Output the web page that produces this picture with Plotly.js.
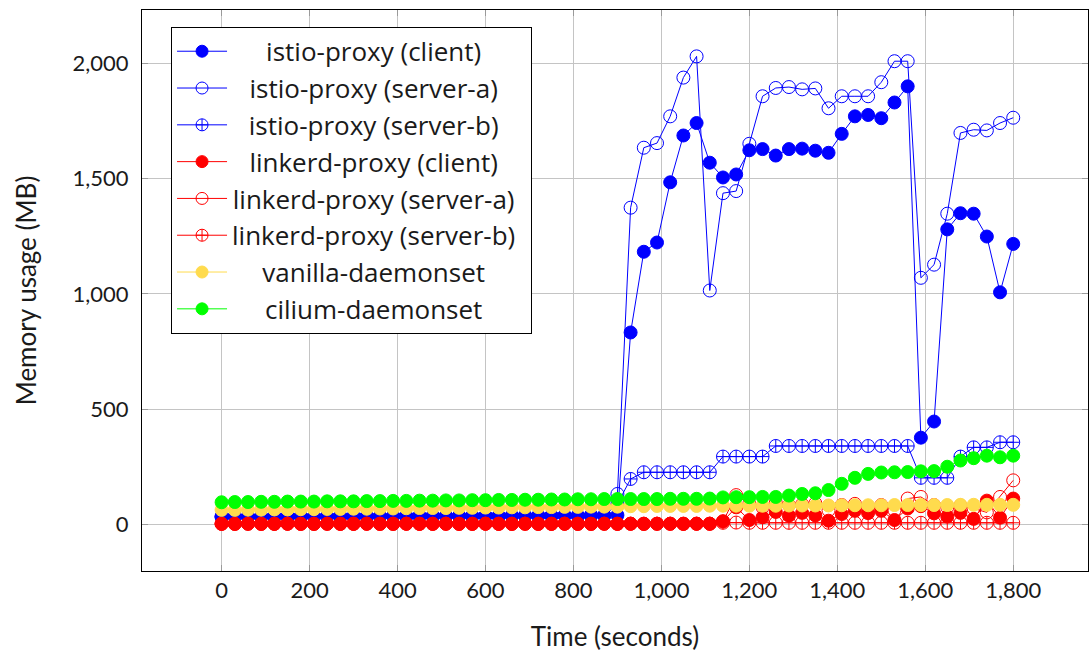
<!DOCTYPE html>
<html>
<head>
<meta charset="utf-8">
<script src="https://cdn.plot.ly/plotly-3.0.1.min.js"></script>
<style>html,body{margin:0;padding:0;background:#fff;}#chart{width:1089px;height:655px;}</style>
</head>
<body>
<div id="chart"></div>
<script>
const timeSeconds = [0,30,60,90,120,150,180,210,240,270,300,330,360,390,420,450,480,510,540,570,600,630,660,690,720,750,780,810,840,870,900,930,960,990,1020,1050,1080,1110,1140,1170,1200,1230,1260,1290,1320,1350,1380,1410,1440,1470,1500,1530,1560,1590,1620,1650,1680,1710,1740,1770,1800];

const istioClient = [36,37,36,37,37,37,38,37,38,38,38,38,38,39,38,39,39,39,39,39,40,39,40,40,40,40,41,40,41,41,
  41,833,1183,1223,1484,1687,1741,1569,1505,1518,1623,1628,1600,1628,1630,1621,1612,1694,1770,1776,1762,1830,1900,377,447,1280,1350,1348,1249,1007,1217];
const istioServerA = [34,35,34,35,35,35,36,35,36,36,36,36,36,37,36,37,37,37,37,37,38,37,38,38,38,38,39,38,39,39,
  133,1374,1634,1654,1770,1938,2030,1015,1437,1446,1651,1857,1893,1897,1887,1891,1805,1857,1857,1857,1918,2009,2009,1070,1127,1348,1698,1712,1709,1741,1764];
const istioServerB = [33,34,33,34,34,34,35,34,35,35,35,35,35,36,35,36,36,36,36,36,37,36,37,37,37,37,38,37,38,38,
  90,198,227,227,227,227,227,227,295,295,295,295,341,341,341,341,341,341,341,341,341,341,341,203,203,203,295,335,335,357,357];
const linkerdClient = [3,3,4,3,3,4,3,3,4,3,3,4,3,3,4,3,3,4,3,3,4,3,3,4,3,3,4,3,3,4,3,4,3,4,4,3,4,4,
  15,75,20,32,55,39,51,40,17,46,60,50,60,20,70,80,49,35,51,25,104,30,113];
const linkerdServerA = [4,4,4,4,4,4,4,4,4,4,4,4,4,4,4,4,4,4,4,4,4,4,4,4,4,4,4,4,4,4,4,4,4,4,4,4,4,4,
  13,128,90,75,95,85,88,92,62,85,90,75,85,62,113,120,85,75,82,70,53,120,192];
const linkerdServerB = [4,4,4,4,4,4,4,4,4,4,4,4,4,4,4,4,4,4,4,4,4,4,4,4,4,4,4,4,4,4,4,4,4,4,4,4,4,4,
  8,9,8,8,8,8,8,8,8,8,8,8,8,8,8,8,8,8,8,8,8,8,8];
const vanillaDaemonset = [64,64,65,65,66,66,67,67,68,68,69,69,70,70,71,72,72,72,73,73,74,74,75,75,76,76,77,77,78,78,
  78,80,80,81,81,81,81,82,82,82,82,82,82,83,83,83,83,84,84,84,84,85,85,85,85,85,86,86,86,86,86];
const ciliumDaemonset = [97,98,98,99,99,100,100,100,101,101,101,102,102,103,103,104,104,105,105,106,106,107,107,108,108,109,109,110,110,111,
  111,111,111,111,112,112,112,113,118,119,119,120,120,126,133,136,150,177,203,220,226,227,228,231,232,251,278,288,299,292,299];

const seriesNames = ["istio-proxy (client)","istio-proxy (server-a)","istio-proxy (server-b)","linkerd-proxy (client)","linkerd-proxy (server-a)","linkerd-proxy (server-b)","vanilla-daemonset","cilium-daemonset"];
const seriesValues = [istioClient, istioServerA, istioServerB, linkerdClient, linkerdServerA, linkerdServerB, vanillaDaemonset, ciliumDaemonset];
const seriesColors = ["#0000ff","#0000ff","#0000ff","#ff0000","#ff0000","#ff0000","#ffdb4d","#00ff00"];
const seriesSymbols = ["circle","circle-open","circle-cross-open","circle","circle-open","circle-cross-open","circle","circle"];

const FONT = "Lato, 'Open Sans', sans-serif";
const LEGFONT = "'Open Sans', Lato, sans-serif";
const TXT = "#1a1a1a";

const traces = seriesNames.map((name, i) => ({
  type: "scatter",
  mode: "lines+markers",
  name: name,
  legendgroup: "g" + i,
  x: timeSeconds,
  y: seriesValues[i],
  line: {color: seriesColors[i], width: 1},
  marker: {color: seriesColors[i], symbol: seriesSymbols[i], size: 13, line: {color: seriesColors[i], width: 1}}
}));

const layout = {
  width: 1089, height: 655,
  margin: {l: 142, r: 1, t: 10, b: 84},
  paper_bgcolor: "#fff", plot_bgcolor: "#fff",
  font: {family: FONT, size: 22, color: TXT},
  showlegend: true,
  legend: {
    x: 0.0307, y: 0.970, xanchor: "left", yanchor: "top",
    bgcolor: "#fff", bordercolor: "#000", borderwidth: 1,
    font: {family: LEGFONT, size: 26, color: TXT},
    itemsizing: "constant", itemwidth: 50,
    traceorder: "grouped", tracegroupgap: 0
  },
  xaxis: {
    range: [-181, 1970],
    tickvals: [0,200,400,600,800,1000,1200,1400,1600,1800],
    tickformat: ",d",
    showgrid: true, gridcolor: "#c4c4c4", gridwidth: 1,
    zeroline: false,
    showline: true, linecolor: "#000", linewidth: 1, mirror: "all",
    ticks: "inside", ticklen: 6, tickcolor: "#9a9a9a",
    tickfont: {family: FONT, size: 22, color: TXT},
    title: {text: "Time (seconds)", font: {family: FONT, size: 26, color: TXT}, standoff: 25},
    automargin: false
  },
  yaxis: {
    range: [-201, 2231],
    tickvals: [0,500,1000,1500,2000],
    tickformat: ",d",
    showgrid: true, gridcolor: "#c4c4c4", gridwidth: 1,
    zeroline: false,
    showline: true, linecolor: "#000", linewidth: 1, mirror: "all",
    ticks: "inside", ticklen: 6, tickcolor: "#9a9a9a",
    ticklabelstandoff: 8,
    tickfont: {family: FONT, size: 22, color: TXT},
    title: {text: "Memory usage (MB)", font: {family: FONT, size: 26, color: TXT}, standoff: 28},
    automargin: false
  }
};

Plotly.newPlot("chart", traces, layout, {staticPlot: true}).then(gd => {
  gd.querySelectorAll(".legend .legendlines path").forEach(p => { p.style.strokeWidth = "1px"; });
  gd.querySelectorAll(".legend .legendpoints path").forEach(p => { p.style.strokeWidth = "1px"; });
  const texts = gd.querySelectorAll(".legend .traces .legendtext");
  let maxW = 0;
  const widths = [];
  texts.forEach(t => { const w = t.getComputedTextLength(); widths.push(w); if (w > maxW) maxW = w; });
  texts.forEach((t, i) => {
    const x0 = parseFloat(t.getAttribute("x")) || 0;
    const nx = x0 + (maxW - widths[i]) / 2;
    t.setAttribute("x", nx);
    t.querySelectorAll("tspan").forEach(ts => { if (ts.getAttribute("x") !== null) ts.setAttribute("x", nx); });
  });
  const bg = gd.querySelector(".legend rect.bg");
  if (bg) {
    const w = parseFloat(bg.getAttribute("width"));
    if (!isNaN(w)) bg.setAttribute("width", w + 10);
  }
});
</script>
</body>
</html>
